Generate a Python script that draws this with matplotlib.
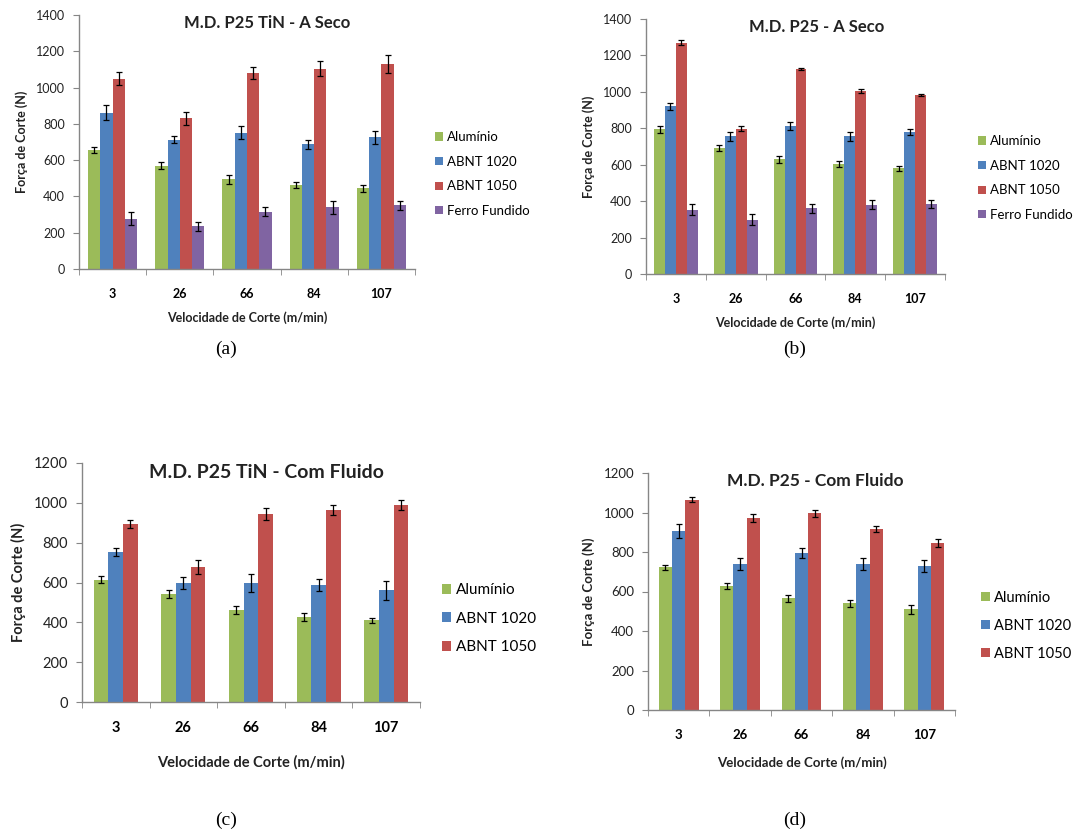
import numpy as np
import matplotlib
matplotlib.use('Agg')
import matplotlib.pyplot as plt
from matplotlib.patches import Patch

plt.rcParams['font.family'] = ['Lato', 'DejaVu Sans']

# =========================================================
# DADOS
# =========================================================

velocidades = ['3', '26', '66', '84', '107']
materiais = ['Alumínio', 'ABNT 1020', 'ABNT 1050', 'Ferro Fundido']
cores = ['#9BBB59', '#4F81BD', '#C0504D', '#8064A2']

# (a) M.D. P25 TiN - A Seco
a_aluminio = [655, 570, 495, 462, 445]
a_1020 = [862, 712, 752, 688, 725]
a_1050 = [1050, 830, 1080, 1105, 1130]
a_ferro = [278, 235, 315, 340, 352]
a_err_aluminio = [18, 20, 25, 18, 20]
a_err_1020 = [40, 20, 35, 25, 35]
a_err_1050 = [35, 35, 35, 40, 50]
a_err_ferro = [35, 25, 25, 35, 25]

# (b) M.D. P25 - A Seco
b_aluminio = [795, 692, 630, 603, 580]
b_1020 = [920, 755, 812, 755, 780]
b_1050 = [1270, 798, 1125, 1005, 985]
b_ferro = [352, 298, 362, 380, 385]
b_err_aluminio = [20, 15, 20, 15, 15]
b_err_1020 = [20, 25, 20, 25, 15]
b_err_1050 = [15, 15, 5, 10, 5]
b_err_ferro = [30, 30, 25, 25, 20]

# (c) M.D. P25 TiN - Com Fluido
c_aluminio = [615, 540, 462, 428, 410]
c_1020 = [752, 597, 597, 588, 560]
c_1050 = [893, 680, 942, 963, 988]
c_err_aluminio = [20, 20, 18, 20, 12]
c_err_1020 = [20, 30, 45, 30, 50]
c_err_1050 = [20, 35, 30, 25, 25]

# (d) M.D. P25 - Com Fluido
d_aluminio = [722, 630, 565, 540, 510]
d_1020 = [908, 738, 793, 738, 730]
d_1050 = [1065, 970, 995, 918, 845]
d_err_aluminio = [12, 15, 18, 18, 22]
d_err_1020 = [35, 30, 25, 30, 30]
d_err_1050 = [12, 20, 20, 15, 20]

W, H = 1078, 833
fig = plt.figure(figsize=(W / 100, H / 100), dpi=100)


def eixo(x0, x1, y0, y1):
    # caixa em pixels -> coordenadas da figura
    return fig.add_axes([x0 / W, 1 - y1 / H, (x1 - x0) / W, (y1 - y0) / H])


def grafico(ax, series, erros, titulo, ymax, largura_grupo, fs_tick, fs_tit, fs_lab,
            tit_xy, xlab_pad, leg_xy, leg_fs, leg_sp):
    n = len(series)
    x = np.arange(len(velocidades))
    larg = largura_grupo / n
    for i, (vals, err) in enumerate(zip(series, erros)):
        pos = x - largura_grupo / 2 + larg * (i + 0.5)
        ax.bar(pos, vals, larg, color=cores[i], edgecolor='none', zorder=2)
        ax.errorbar(pos, vals, yerr=err, fmt='none', ecolor='black',
                    elinewidth=0.9, capsize=2.2, capthick=0.9, zorder=3)

    ax.set_xlim(-0.5, len(velocidades) - 0.5)
    ax.set_ylim(0, ymax)
    ax.set_yticks(np.arange(0, ymax + 1, 200))
    ax.set_xticks(x)
    ax.set_xticklabels(velocidades, fontweight='bold')
    ax.set_xticks(np.arange(-0.5, len(velocidades)), minor=True)
    ax.tick_params(axis='x', which='major', length=0, pad=14, labelsize=fs_tick)
    ax.tick_params(axis='x', which='minor', length=4, color='#868686')
    ax.tick_params(axis='y', length=4, color='#868686', pad=6, labelsize=fs_tick,
                   labelcolor='#222222')

    for s in ['top', 'right']:
        ax.spines[s].set_visible(False)
    for s in ['left', 'bottom']:
        ax.spines[s].set_color('#868686')
        ax.spines[s].set_linewidth(1.0)

    # titulo dentro da area do grafico
    ax.text(tit_xy[0], tit_xy[1], titulo, transform=ax.transAxes, ha='center',
            va='center', fontsize=fs_tit, fontweight='bold', color='#222222')
    ax.set_xlabel('Velocidade de Corte (m/min)', fontsize=fs_lab, fontweight='bold',
                  labelpad=xlab_pad, color='#222222')
    ax.set_ylabel('Força de Corte (N)', fontsize=fs_lab, fontweight='bold',
                  labelpad=6, color='#222222')

    handles = [Patch(facecolor=cores[i], edgecolor='none') for i in range(n)]
    fig.legend(handles, materiais[:n], loc='upper left',
               bbox_to_anchor=(leg_xy[0] / W, 1 - leg_xy[1] / H),
               frameon=False, fontsize=leg_fs, handlelength=0.6, handleheight=0.6,
               handletextpad=0.3, labelspacing=leg_sp, borderaxespad=0)


ax_a = eixo(79, 415, 15, 269)
grafico(ax_a, [a_aluminio, a_1020, a_1050, a_ferro],
        [a_err_aluminio, a_err_1020, a_err_1050, a_err_ferro],
        'M.D. P25 TiN - A Seco', 1400, 0.73, 9, 12, 9, (0.56, 0.97), 8,
        (430, 126), 9.5, 0.95)

ax_b = eixo(646, 945, 19, 274)
grafico(ax_b, [b_aluminio, b_1020, b_1050, b_ferro],
        [b_err_aluminio, b_err_1020, b_err_1050, b_err_ferro],
        'M.D. P25 - A Seco', 1400, 0.73, 9, 12, 9, (0.57, 0.97), 8,
        (973, 130), 9.5, 0.95)

ax_c = eixo(82, 420, 463, 702)
grafico(ax_c, [c_aluminio, c_1020, c_1050],
        [c_err_aluminio, c_err_1020, c_err_1050],
        'M.D. P25 TiN - Com Fluido', 1200, 0.65, 10.5, 14, 10.5, (0.545, 0.96), 14,
        (436, 577), 11, 0.95)

ax_d = eixo(648, 955, 473, 710)
grafico(ax_d, [d_aluminio, d_1020, d_1050],
        [d_err_aluminio, d_err_1020, d_err_1050],
        'M.D. P25 - Com Fluido', 1200, 0.65, 9.5, 12.5, 9.5, (0.545, 0.966), 11,
        (975, 585), 10.5, 0.95)

# legendas das figuras
for txt, xc, yc in [('(a)', 226, 349), ('(b)', 795, 349), ('(c)', 226, 820), ('(d)', 795, 820)]:
    fig.text(xc / W, 1 - yc / H, txt, ha='center', va='center', fontsize=14,
             family='Liberation Serif')

fig.savefig('out.png', dpi=100, facecolor='white')
